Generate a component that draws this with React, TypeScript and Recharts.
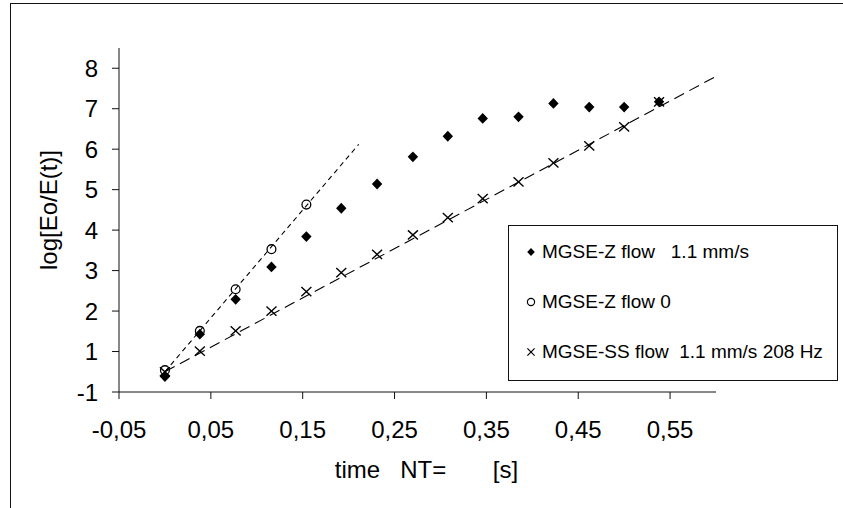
import React from 'react';
import { ComposedChart, Scatter, Line, XAxis, YAxis, Legend } from 'recharts';

const FONT = '"Liberation Sans", Arial, Helvetica, sans-serif';

// time NT [s]
const timeNT = [0, 0.038, 0.077, 0.116, 0.154, 0.192, 0.231, 0.27, 0.308, 0.346, 0.385, 0.423, 0.462, 0.5, 0.538];
// MGSE-Z flow 1.1 mm/s
const zFlowValues = [0.38, 1.43, 2.29, 3.09, 3.84, 4.54, 5.14, 5.81, 6.32, 6.76, 6.8, 7.13, 7.04, 7.04, 7.17];
// MGSE-Z flow 0
const zNoFlowTimes = [0, 0.038, 0.077, 0.116, 0.154];
const zNoFlowValues = [0.54, 1.51, 2.54, 3.53, 4.63];
// MGSE-SS flow 1.1 mm/s 208 Hz
const ssFlowValues = [0.5, 1.01, 1.51, 2.0, 2.48, 2.95, 3.4, 3.88, 4.31, 4.78, 5.19, 5.66, 6.08, 6.55, 7.17];
// trend lines
const zNoFlowFitX = [0, 0.211];
const zNoFlowFitY = [0.5, 6.12];
const ssFitX = [0, 0.6];
const ssFitY = [0.5, 7.8];

const xTicks = [-0.05, 0.05, 0.15, 0.25, 0.35, 0.45, 0.55];
const xTickLabels = ['-0,05', '0,05', '0,15', '0,25', '0,35', '0,45', '0,55'];
const yTicks = [0, 1, 2, 3, 4, 5, 6, 7, 8];
const yTickLabels = ['-1', '1', '2', '3', '4', '5', '6', '7', '8'];

const seriesNames = ['MGSE-Z flow   1.1 mm/s', 'MGSE-Z flow 0', 'MGSE-SS flow  1.1 mm/s 208 Hz'];
const xTitle = 'time   NT=       [s]';
const yTitle = 'log[Eo/E(t)]';

const zFlowData = timeNT.map((x, i) => ({ x, y: zFlowValues[i] }));
const zNoFlowData = zNoFlowTimes.map((x, i) => ({ x, y: zNoFlowValues[i] }));
const ssFlowData = timeNT.map((x, i) => ({ x, y: ssFlowValues[i] }));
const zNoFlowFit = zNoFlowFitX.map((x, i) => ({ x, y: zNoFlowFitY[i] }));
const ssFit = ssFitX.map((x, i) => ({ x, y: ssFitY[i] }));

const INK = '#111';

const DiamondShape = (p: any) => {
  const { cx, cy } = p;
  if (cx == null || cy == null) return null;
  const w = 5.2, h = 5.4;
  return <polygon points={`${cx},${cy - h} ${cx + w},${cy} ${cx},${cy + h} ${cx - w},${cy}`} fill="#000" />;
};
const CircleShape = (p: any) => {
  const { cx, cy } = p;
  if (cx == null || cy == null) return null;
  return <circle cx={cx} cy={cy} r={4.4} fill="none" stroke="#000" strokeWidth={1.3} />;
};
const CrossShape = (p: any) => {
  const { cx, cy } = p;
  if (cx == null || cy == null) return null;
  const w = 5, h = 4.6;
  return (
    <g stroke="#000" strokeWidth={1.4}>
      <line x1={cx - w} y1={cy - h} x2={cx + w} y2={cy + h} />
      <line x1={cx - w} y1={cy + h} x2={cx + w} y2={cy - h} />
    </g>
  );
};

const XTitle = (props: any) => {
  const vb = props.viewBox || {};
  return (
    <text
      x={vb.x + vb.width / 2 + 9}
      y={vb.y + 86}
      textAnchor="middle"
      fontSize={24}
      fontFamily={FONT}
      fill="#000"
      style={{ whiteSpace: 'pre' }}
    >
      {xTitle}
    </text>
  );
};

const YTitle = (props: any) => {
  const vb = props.viewBox || {};
  const x = vb.x - 2;
  const y = vb.y + vb.height / 2 - 10;
  return (
    <text x={x} y={y} transform={`rotate(-90 ${x} ${y})`} textAnchor="middle" fontSize={24} fontFamily={FONT} fill="#000">
      {yTitle}
    </text>
  );
};

const legendMarkers = [
  (x: number, y: number) => <polygon points={`${x},${y - 4} ${x + 3.8},${y} ${x},${y + 4} ${x - 3.8},${y}`} fill="#000" />,
  (x: number, y: number) => <circle cx={x} cy={y} r={3.6} fill="none" stroke="#000" strokeWidth={1.2} />,
  (x: number, y: number) => (
    <g stroke="#000" strokeWidth={1.2}>
      <line x1={x - 3.6} y1={y - 3.6} x2={x + 3.6} y2={y + 3.6} />
      <line x1={x - 3.6} y1={y + 3.6} x2={x + 3.6} y2={y - 3.6} />
    </g>
  ),
];

const LegendBox = () => (
  <div style={{ width: 330, height: 156, boxSizing: 'border-box', border: `1px solid ${INK}`, background: '#fff' }}>
    <svg width={328} height={154} style={{ display: 'block' }}>
      {seriesNames.map((name, i) => {
        const base = 32 + i * 50;
        return (
          <g key={name}>
            {legendMarkers[i](22, base - 6)}
            <text x={33} y={base} fontSize={19} fontFamily={FONT} fill="#000" style={{ whiteSpace: 'pre' }}>
              {name}
            </text>
          </g>
        );
      })}
    </svg>
  </div>
);

export default function App() {
  return (
    <div style={{ position: 'fixed', left: 0, top: 0, width: 843, height: 508, background: '#fff', fontFamily: FONT }}>
      <div
        style={{
          position: 'absolute',
          left: 10,
          top: 3,
          width: 833,
          height: 505,
          boxSizing: 'border-box',
          borderLeft: `1.5px solid ${INK}`,
          borderTop: `1.5px solid ${INK}`,
        }}
      />
      <div style={{ position: 'absolute', left: 0, top: 0 }}>
        <ComposedChart width={843} height={508} margin={{ top: 48, right: 127, bottom: 56, left: 59 }}>
          <XAxis
            type="number"
            dataKey="x"
            domain={[-0.05, 0.6]}
            ticks={xTicks}
            interval={0}
            allowDataOverflow
            height={60}
            tickSize={7}
            tickMargin={22}
            tickFormatter={(v: number, i: number) => xTickLabels[i] ?? String(v)}
            tick={{ fill: '#000', fontSize: 24, fontFamily: FONT }}
            axisLine={{ stroke: INK }}
            tickLine={{ stroke: INK }}
            label={<XTitle />}
          />
          <YAxis
            type="number"
            dataKey="y"
            domain={[0, 8.5]}
            ticks={yTicks}
            interval={0}
            allowDataOverflow
            width={60}
            tickSize={7}
            tickMargin={14}
            tickFormatter={(v: number, i: number) => yTickLabels[i] ?? String(v)}
            tick={{ fill: '#000', fontSize: 24, fontFamily: FONT }}
            axisLine={{ stroke: INK }}
            tickLine={{ stroke: INK }}
            label={<YTitle />}
          />
          <Line
            data={zNoFlowFit}
            dataKey="y"
            type="linear"
            stroke="#000"
            strokeWidth={1.1}
            strokeDasharray="5 4"
            dot={false}
            activeDot={false}
            legendType="none"
            isAnimationActive={false}
          />
          <Line
            data={ssFit}
            dataKey="y"
            type="linear"
            stroke="#000"
            strokeWidth={1.1}
            strokeDasharray="11 6"
            dot={false}
            activeDot={false}
            legendType="none"
            isAnimationActive={false}
          />
          <Scatter name={seriesNames[0]} data={zFlowData} dataKey="y" shape={DiamondShape} isAnimationActive={false} />
          <Scatter name={seriesNames[1]} data={zNoFlowData} dataKey="y" shape={CircleShape} isAnimationActive={false} />
          <Scatter name={seriesNames[2]} data={ssFlowData} dataKey="y" shape={CrossShape} isAnimationActive={false} />
          <Legend
            layout="horizontal"
            verticalAlign="middle"
            align="center"
            content={() => <LegendBox />}
            wrapperStyle={{ position: 'absolute', left: 508, top: 225, width: 330, height: 156, margin: 0, padding: 0 }}
          />
        </ComposedChart>
      </div>
    </div>
  );
}
